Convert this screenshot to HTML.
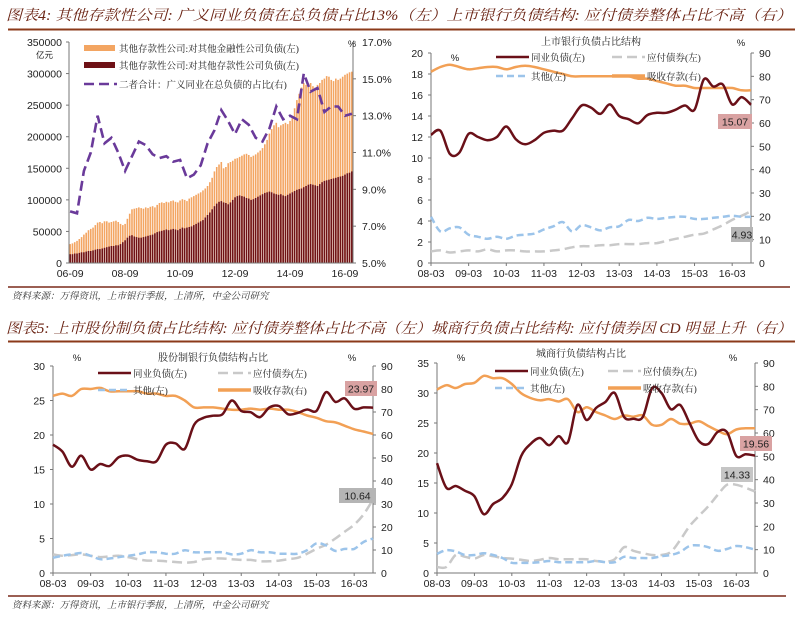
<!DOCTYPE html>
<html><head><meta charset="utf-8">
<style>
html,body{margin:0;padding:0;background:#fff;width:797px;height:621px;overflow:hidden}
svg{display:block}
text{font-family:"Liberation Sans","Noto Sans CJK SC",sans-serif}
.cjk{font-family:"Liberation Serif","Noto Serif CJK SC","Noto Sans CJK SC",serif}
</style></head>
<body>
<svg id="root" width="797" height="621" viewBox="0 0 797 621" xmlns="http://www.w3.org/2000/svg">
  <text class="cjk" x="6" y="20" font-size="14.5" font-style="italic" fill="#6b2414" textLength="786" lengthAdjust="spacingAndGlyphs">图表4: 其他存款性公司: 广义同业负债在总负债占比13%（左）上市银行负债结构: 应付债券整体占比不高（右）</text>
  <line x1="8" y1="29.5" x2="795" y2="29.5" stroke="#8b3a1a" stroke-width="2"/>
  <line x1="8" y1="287" x2="790" y2="287" stroke="#7a2a1a" stroke-width="1.5"/>
  <text class="cjk" x="12" y="299" font-size="9.5" font-style="italic" fill="#333">资料来源：万得资讯，上市银行季报，上清所，中金公司研究</text>
  <text class="cjk" x="6" y="333" font-size="14.5" font-style="italic" fill="#6b2414" textLength="786" lengthAdjust="spacingAndGlyphs">图表5: 上市股份制负债占比结构: 应付债券整体占比不高（左）城商行负债占比结构: 应付债券因 CD 明显上升（右）</text>
  <line x1="8" y1="341.5" x2="795" y2="341.5" stroke="#8b3a1a" stroke-width="2"/>
  <line x1="8" y1="596" x2="786" y2="596" stroke="#7a2a1a" stroke-width="1.5"/>
  <text class="cjk" x="12" y="608" font-size="9.5" font-style="italic" fill="#333">资料来源：万得资讯，上市银行季报，上清所，中金公司研究</text>
</svg>
<script>
// ===== Chart 1 data (monthly 06-09 .. 16-12, in thousand 亿元) =====
const c1TotalBars = [
30,31,33,35,
38,41,45,48,52,54,56,60,64,65,63,66,
66,64,65,66,67,65,62,60,62,70,78,85,
86,87,88,87,86,88,87,89,90,88,92,95,
96,95,97,96,98,99,97,96,99,101,100,98,
102,104,106,108,110,112,115,118,122,128,135,145,
152,156,160,150,152,158,160,162,165,166,168,170,
172,173,171,168,170,172,175,178,182,188,195,205,
212,218,222,215,218,220,222,220,225,232,245,258,
268,278,285,282,280,285,280,278,282,285,290,292,
296,295,290,288,292,290,292,295,298,300,302,303];
const c1DepositBars = [
14,14,15,15,
16,17,17,18,19,19,20,21,22,22,23,24,
25,26,27,27,28,28,30,33,36,40,43,44,
42,41,40,40,41,42,43,44,45,47,49,50,
51,52,53,52,53,54,53,52,54,56,55,56,
57,58,60,62,64,66,68,72,76,80,85,90,
94,97,98,96,95,93,96,100,104,106,107,106,
105,103,102,100,101,103,105,107,109,111,112,113,
112,110,109,108,109,107,106,108,110,112,114,116,
117,118,120,122,124,125,124,123,122,125,128,130,
131,132,133,134,135,136,137,138,140,142,143,145];
// quarterly ratio 06-09 .. 16-12 (%)
const c1Ratio = [7.8,7.7,10.0,11.0,13.0,11.5,11.8,11.0,10.0,10.8,11.6,11.4,10.9,10.7,10.8,10.5,10.6,9.6,9.8,10.3,11.5,12.2,13.3,12.7,12.0,12.8,12.5,11.8,11.6,12.3,13.5,12.8,13.0,12.8,15.3,14.3,14.5,13.2,13.5,13.5,13.0,13.1];
const c1XTicks = ["06-09","08-09","10-09","12-09","14-09","16-09"];
const c1LeftTicks = [0,50000,100000,150000,200000,250000,300000,350000];
const c1RightTicks = ["5.0%","7.0%","9.0%","11.0%","13.0%","15.0%","17.0%"];

// ===== Quarterly charts (08-03 .. 16-09) =====
const qXTicks = ["08-03","09-03","10-03","11-03","12-03","13-03","14-03","15-03","16-03"];

const c2Interbank = [12.2,12.6,10.4,10.5,12.3,12.0,11.7,12.0,13.0,11.8,11.3,11.7,12.4,12.6,12.6,13.8,15.0,14.8,14.2,15.1,14.0,13.7,13.3,14.1,14.3,14.3,14.6,15.0,14.6,17.5,16.8,17.0,15.1,15.8,15.07];
const c2Bonds = [1.1,1.2,1.0,1.1,1.2,1.1,1.3,1.1,1.2,1.2,1.1,1.1,1.1,1.2,1.3,1.5,1.6,1.6,1.7,1.7,1.8,1.8,1.8,1.9,1.9,2.1,2.3,2.5,2.7,2.8,3.2,3.6,4.1,4.5,4.93];
const c2Other = [4.4,3.0,3.3,3.4,2.7,2.5,2.3,2.5,2.3,2.6,2.7,2.8,3.2,3.5,3.9,3.0,3.6,3.4,3.1,3.4,3.5,4.1,4.0,4.3,4.2,4.3,4.4,4.4,4.2,4.2,4.3,4.4,4.5,4.4,4.4];
const c2Deposits = [82,84,85,84,83,83.5,84,84,83,84,84.5,84,83,82,81,80,80,80,80,80,80,80,79,79,78,77,76,76,75,75,75,75,75,74,74];
const c2LeftTicks = [0,2,4,6,8,10,12,14,16,18,20];
const c2RightTicks = [0,10,20,30,40,50,60,70,80,90];

const c3Interbank = [18.6,17.6,15.4,17.0,15.0,15.8,15.5,16.8,17.0,16.4,16.2,16.2,18.6,18.8,18.0,21.5,22.5,22.8,23.0,25.0,23.5,23.3,22.6,24.0,24.2,23.0,23.2,23.7,23.5,26.2,24.8,25.3,23.8,24.0,23.97];
const c3Bonds = [2.7,2.5,2.6,2.7,2.5,2.3,2.4,2.5,2.3,2.0,1.8,1.8,1.7,1.6,1.5,1.6,2.0,2.1,2.1,2.0,1.9,1.9,1.7,1.7,1.8,2.0,2.2,2.8,3.5,4.1,5.0,6.0,7.0,8.5,10.64];
const c3Other = [2.2,2.5,2.7,2.9,2.5,2.0,2.1,2.3,2.5,2.7,3.0,3.0,2.8,2.8,3.3,3.0,3.0,3.0,3.0,2.7,2.8,3.3,3.0,3.0,2.8,2.8,2.8,3.3,4.3,4.0,3.2,3.5,3.5,4.5,5.0];
const c3Deposits = [77,78,77,80,80,80.5,79,79,79,79,78,78,77,77,75,72,72,72,71.5,71,71,71.5,71,71.5,71,71,70,68.5,67.5,66,65.5,64,62.5,61.5,60.5];
const c3LeftTicks = [0,5,10,15,20,25,30];
const c3RightTicks = [0,10,20,30,40,50,60,70,80,90];

const c4Interbank = [18.3,14.2,14.5,13.7,12.8,9.8,11.5,12.5,14.8,19.5,21.5,22.5,21.3,22.8,21.8,28.0,25.5,27.5,28.5,30.0,26.0,25.7,26.0,30.8,30.0,27.3,28.0,25.0,22.0,21.5,23.5,23.5,19.5,19.8,19.56];
const c4Bonds = [1.0,1.0,3.0,2.7,2.4,3.0,2.8,2.5,2.4,2.2,2.0,2.2,2.5,2.3,2.3,2.3,2.3,2.0,1.9,2.3,4.3,3.7,3.3,3.0,3.0,3.5,5.5,7.8,9.5,11.1,13.0,14.7,14.7,14.2,13.6];
const c4Other = [3.2,3.8,3.6,3.0,3.0,3.3,3.0,2.5,1.7,1.7,1.7,1.8,2.0,1.8,1.8,1.8,1.8,2.0,1.8,1.8,2.7,2.5,2.5,2.5,2.8,3.0,3.5,4.5,4.6,4.3,3.7,4.0,4.5,4.3,3.9];
const c4Deposits = [78.6,80.5,79.3,81,81.5,84.5,83.5,83.5,81,77,75,74,74.5,73.5,74.5,69,71,69,67.5,66,67.5,67,67.5,63.5,63.5,66,64,64,65,63,61,59.5,61.5,62,62];
const c4LeftTicks = [0,5,10,15,20,25,30,35];
const c4RightTicks = [0,10,20,30,40,50,60,70,80,90];

const NS = "http://www.w3.org/2000/svg";
const root = document.getElementById('root');
function mk(tag, attrs, parent){
  const e = document.createElementNS(NS, tag);
  for (const k in attrs) e.setAttribute(k, attrs[k]);
  (parent||root).appendChild(e);
  return e;
}
function txt(x,y,s,size,anchor,fill,parent,cls){
  const t = mk('text',{x:x,y:y,'font-size':size,'text-anchor':anchor||'start',fill:fill||'#222'},parent);
  if(cls) t.setAttribute('class',cls);
  t.textContent = s;
  return t;
}
function smoothPath(pts){
  let d = 'M'+pts[0][0].toFixed(1)+','+pts[0][1].toFixed(1);
  for(let i=0;i<pts.length-1;i++){
    const p0=pts[i-1]||pts[i], p1=pts[i], p2=pts[i+1], p3=pts[i+2]||p2;
    const c1x=p1[0]+(p2[0]-p0[0])/6, c1y=p1[1]+(p2[1]-p0[1])/6;
    const c2x=p2[0]-(p3[0]-p1[0])/6, c2y=p2[1]-(p3[1]-p1[1])/6;
    d+=' C'+c1x.toFixed(1)+','+c1y.toFixed(1)+' '+c2x.toFixed(1)+','+c2y.toFixed(1)+' '+p2[0].toFixed(1)+','+p2[1].toFixed(1);
  }
  return d;
}

// ---------- Chart 1 ----------
(function(){
  const g = mk('g',{});
  
  
  const L=69,R=353,T=42,B=263;
  const n=c1TotalBars.length, band=(R-L)/n;
  const xB=i=>L+band*(i+0.5);
  const yL=v=>B-(v/350000)*(B-T);
  const yR=v=>B-((v-5)/12)*(B-T);
  for(let i=0;i<n;i++){
    const r = mk('rect',{x:(xB(i)-0.8).toFixed(2),y:yL(c1TotalBars[i]*1000).toFixed(1),width:1.6,height:(B-yL(c1TotalBars[i]*1000)).toFixed(1),fill:'#f3a562'},g);
    
    
  }
  for(let i=0;i<n;i++){
    const r = mk('rect',{x:(xB(i)-0.8).toFixed(2),y:yL(c1DepositBars[i]*1000).toFixed(1),width:1.6,height:(B-yL(c1DepositBars[i]*1000)).toFixed(1),fill:'#6e1116'},g);
    
    
  }
  const pts = c1Ratio.map((v,i)=>[xB(i*3),yR(v)]);
  const ln = mk('path',{d:pts.map((p,i)=>(i?'L':'M')+p[0].toFixed(1)+','+p[1].toFixed(1)).join(' '),fill:'none',stroke:'#6a3a9a','stroke-width':2.6,'stroke-dasharray':'10,5'},g);
  
  
  mk('line',{x1:L,y1:T,x2:L,y2:B,stroke:'#777','stroke-width':1},g);
  mk('line',{x1:R,y1:T,x2:R,y2:B,stroke:'#777','stroke-width':1},g);
  mk('line',{x1:L,y1:B,x2:R,y2:B,stroke:'#777','stroke-width':1},g);
  c1LeftTicks.forEach(v=>{
    mk('line',{x1:L-3,y1:yL(v),x2:L,y2:yL(v),stroke:'#777'},g);
    const t=txt(L-7,yL(v)+4,String(v),10.5,'end','#222',g);
    
    
  });
  txt(36,58,'亿元',8.5,'start','#222',g);
  c1RightTicks.forEach((s,i)=>{
    const y=B-(i/6)*(B-T);
    mk('line',{x1:R,y1:y,x2:R+3,y2:y,stroke:'#777'},g);
    const t=txt(R+9,y+4,s,10.5,'start','#222',g);
    
    
  });
  txt(352,47,'%',9,'middle','#222',g);
  c1XTicks.forEach((s,i)=>{
    const t=txt(xB(i*24),277,s,10.5,'middle','#222',g);
    
    
  });
  // legend
  const lg=mk('g',{},g);
  
  
  mk('rect',{x:84,y:45,width:31,height:6,fill:'#f3a562'},lg);
  txt(119,52,'其他存款性公司:对其他金融性公司负债(左)',9.5,'start','#222',lg,'cjk');
  mk('rect',{x:84,y:62,width:31,height:6,fill:'#6e1116'},lg);
  txt(119,69,'其他存款性公司:对其他存款性公司负债(左)',9.5,'start','#222',lg,'cjk');
  mk('line',{x1:84,y1:84,x2:117,y2:84,stroke:'#6a3a9a','stroke-width':2.6,'stroke-dasharray':'10,5'},lg);
  txt(119,88,'二者合计：广义同业在总负债的占比(右)',9.5,'start','#222',lg,'cjk');
})();

// ---------- quarterly line charts ----------
function lineChart(o){
  const g = mk('g',{});
  
  
  const {L,R,T,B}=o;
  const n=o.interbank.length;
  const x=i=>L+(R-L)*i/(n-1);
  const yL=v=>B-(v/o.lmax)*(B-T);
  const yR=v=>B-(v/o.rmax)*(B-T);
  mk('line',{x1:L,y1:T,x2:L,y2:B,stroke:'#777'},g);
  mk('line',{x1:R,y1:T,x2:R,y2:B,stroke:'#777'},g);
  mk('line',{x1:L,y1:B,x2:R,y2:B,stroke:'#777'},g);
  o.lticks.forEach(v=>{
    mk('line',{x1:L-3,y1:yL(v),x2:L,y2:yL(v),stroke:'#777'},g);
    const t=txt(L-8,yL(v)+4,String(v),10.5,'end','#222',g);
    
    
  });
  o.rticks.forEach(v=>{
    mk('line',{x1:R,y1:yR(v),x2:R+3,y2:yR(v),stroke:'#777'},g);
    const t=txt(R+8,yR(v)+4,String(v),10.5,'start','#222',g);
    
    
  });
  qXTicks.forEach((s,i)=>{
    mk('line',{x1:x(i*4),y1:B,x2:x(i*4),y2:B+3,stroke:'#777'},g);
    const t=txt(x(i*4),B+14,s,10.5,'middle','#222',g);
    
    
  });
  const ct=txt(o.titleX,o.titleY,o.title,10,'middle','#222',g,'cjk');
  
  
  txt(o.pctL[0],o.pctL[1],'%',9.5,'middle','#222',g);
  txt(o.pctR[0],o.pctR[1],'%',9.5,'middle','#222',g);
  const series=[
    {d:o.deposits,ax:yR,c:'#f2a055',dash:'',nm:'deposits-line'},
    {d:o.bonds,ax:yL,c:'#c9c9c9',dash:'10,5',nm:'bonds-line'},
    {d:o.other,ax:yL,c:'#9cc4ea',dash:'7,4',nm:'other-line'},
    {d:o.interbank,ax:yL,c:'#6a1018',dash:'',nm:'interbank-line'}
  ];
  series.forEach(s=>{
    const p=mk('path',{d:smoothPath(s.d.map((v,i)=>[x(i),s.ax(v)])),fill:'none',stroke:s.c,'stroke-width':2.5,'stroke-dasharray':s.dash,'stroke-linejoin':'round'},g);
    
    
  });
  // legend
  const lg=mk('g',{},g);
  
  
  const [lx1,lx2,ly1,ly2]=o.leg;
  mk('line',{x1:lx1,y1:ly1,x2:lx1+33,y2:ly1,stroke:'#6a1018','stroke-width':2.5},lg);
  txt(lx1+35,ly1+4,'同业负债(左)',9.5,'start','#222',lg,'cjk');
  mk('line',{x1:lx2,y1:ly1,x2:lx2+33,y2:ly1,stroke:'#c9c9c9','stroke-width':2.5,'stroke-dasharray':'10,5'},lg);
  txt(lx2+35,ly1+4,'应付债券(左)',9.5,'start','#222',lg,'cjk');
  mk('line',{x1:lx1,y1:ly2,x2:lx1+33,y2:ly2,stroke:'#9cc4ea','stroke-width':2.5,'stroke-dasharray':'7,4'},lg);
  txt(lx1+35,ly2+4,'其他(左)',9.5,'start','#222',lg,'cjk');
  mk('line',{x1:lx2,y1:ly2,x2:lx2+33,y2:ly2,stroke:'#f2a055','stroke-width':3.5},lg);
  txt(lx2+35,ly2+4,'吸收存款(右)',9.5,'start','#222',lg,'cjk');
  // value labels
  o.boxes.forEach(b=>{
    const r=mk('rect',{x:b.x,y:b.y,width:b.w,height:15,fill:b.fill},g);
    
    
    txt(b.x+b.w/2,b.y+11.5,b.v.toFixed(2),10.5,'middle','#222',g);
  });
}
lineChart({name:'listed-banks-chart',L:431,R:751,T:53,B:263,lmax:20,rmax:90,
  interbank:c2Interbank,bonds:c2Bonds,other:c2Other,deposits:c2Deposits,
  lticks:c2LeftTicks,rticks:c2RightTicks,title:'上市银行负债占比结构',titleX:591,titleY:45,
  pctL:[455,61],pctR:[741,46],leg:[496,612,57,76],
  boxes:[{x:718,y:114,w:34,fill:'#d9a2a2',v:c2Interbank[34]},{x:731,y:227,w:22,fill:'#b5b5b5',v:c2Bonds[34]}]});
lineChart({name:'joint-stock-banks-chart',L:53,R:373,T:366,B:573,lmax:30,rmax:90,
  interbank:c3Interbank,bonds:c3Bonds,other:c3Other,deposits:c3Deposits,
  lticks:c3LeftTicks,rticks:c3RightTicks,title:'股份制银行负债结构占比',titleX:213,titleY:361,
  pctL:[77,361],pctR:[352,361],leg:[98,218,373,390],
  boxes:[{x:345,y:381,w:32,fill:'#d9a2a2',v:c3Interbank[34]},{x:339,y:488,w:37,fill:'#b5b5b5',v:c3Bonds[34]}]});
lineChart({name:'city-banks-chart',L:437,R:755,T:363,B:573,lmax:35,rmax:90,
  interbank:c4Interbank,bonds:c4Bonds,other:c4Other,deposits:c4Deposits,
  lticks:c4LeftTicks,rticks:c4RightTicks,title:'城商行负债结构占比',titleX:581,titleY:357,
  pctL:[461,361],pctR:[733,361],leg:[495,608,371,388],
  boxes:[{x:740,y:436,w:32,fill:'#d9a2a2',v:c4Interbank[34]},{x:721,y:467,w:32,fill:'#c5c5c5',v:14.33}]});
</script>
</body></html>
